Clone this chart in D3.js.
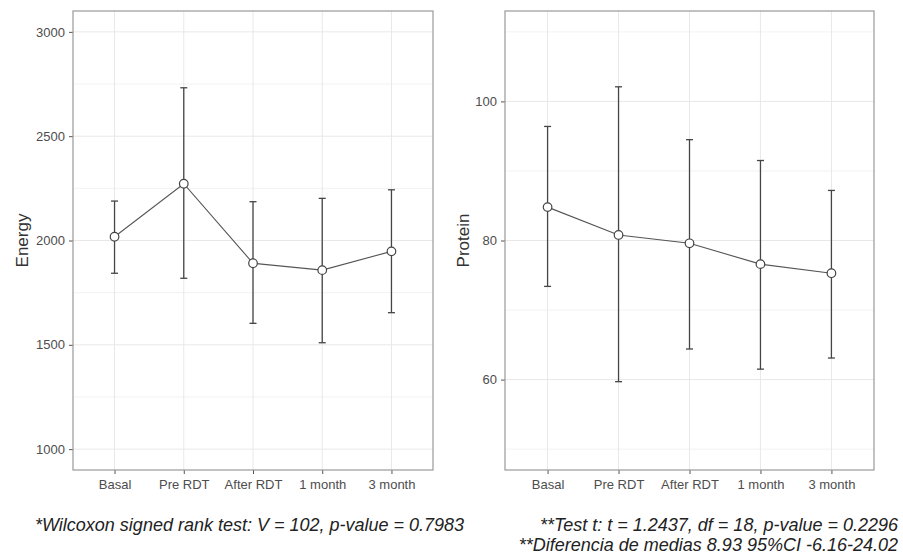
<!DOCTYPE html>
<html>
<head>
<meta charset="utf-8">
<script src="https://cdn.jsdelivr.net/npm/d3@7"></script>
<style>
  body { margin: 0; background: #fff; }
  svg { display: block; font-family: "Liberation Sans", Arial, sans-serif; }
  .tick text { fill: #4d4d4d; font-size: 13px; }
  .tick line { stroke: #555; }
</style>
</head>
<body>
<div id="chart"></div>
<script>
// data
const categories = ["Basal", "Pre RDT", "After RDT", "1 month", "3 month"];

const energyMean = [2018, 2272, 1891, 1858, 1948];
const energyLow  = [1843, 1819, 1603, 1510, 1654];
const energyHigh = [2189, 2732, 2186, 2202, 2243];
const energyTicks = [1000, 1500, 2000, 2500, 3000];
const energyMinor = [1250, 1750, 2250, 2750];

const proteinMean = [84.8, 80.8, 79.6, 76.6, 75.3];
const proteinLow  = [73.4, 59.7, 64.4, 61.5, 63.1];
const proteinHigh = [96.4, 102.1, 94.5, 91.5, 87.2];
const proteinTicks = [60, 80, 100];
const proteinMinor = [50, 70, 90, 110];

const notes = [
  "*Wilcoxon signed rank test: V = 102, p-value = 0.7983",
  "**Test t: t = 1.2437, df = 18, p-value = 0.2296",
  "**Diferencia de medias 8.93 95%CI -6.16-24.02"
];

(function () {
  const width = 903, height = 557;

  const svg = d3.select("#chart")
    .append("svg")
    .attr("width", width)
    .attr("height", height);

  // one panel: mean with error bars, joined by a line
  function panel(box, title, means, lows, highs, domain, ticks, minor) {
    const g = svg.append("g").attr("transform", `translate(${box.x}, ${box.y})`);

    const x = d3.scalePoint()
      .domain(categories)
      .range([0, box.w])
      .padding(0.6);   // same spacing as ggplot's discrete expansion

    const y = d3.scaleLinear()
      .domain(domain)
      .range([box.h, 0]);

    const rows = categories.map((c, i) => ({ cat: c, mean: means[i], low: lows[i], high: highs[i] }));

    // grid
    g.append("g").selectAll("line")
      .data(minor)
      .join("line")
      .attr("x1", 0).attr("x2", box.w)
      .attr("y1", d => y(d)).attr("y2", d => y(d))
      .attr("stroke", "#f2f2f2");

    g.append("g").selectAll("line")
      .data(ticks)
      .join("line")
      .attr("x1", 0).attr("x2", box.w)
      .attr("y1", d => y(d)).attr("y2", d => y(d))
      .attr("stroke", "#e8e8e8");

    g.append("g").selectAll("line")
      .data(categories)
      .join("line")
      .attr("x1", d => x(d)).attr("x2", d => x(d))
      .attr("y1", 0).attr("y2", box.h)
      .attr("stroke", "#e8e8e8");

    // axes
    g.append("g")
      .call(d3.axisLeft(y).tickValues(ticks).tickFormat(d3.format("d")).tickSize(4).tickPadding(4))
      .call(a => a.select(".domain").remove());

    g.append("g")
      .attr("transform", `translate(0, ${box.h})`)
      .call(d3.axisBottom(x).tickSize(4).tickPadding(6))
      .call(a => a.select(".domain").remove());

    // error bars
    const bars = g.append("g")
      .attr("stroke", "#454545")
      .attr("stroke-width", 1.3);

    bars.selectAll(".stem")
      .data(rows)
      .join("line")
      .attr("class", "stem")
      .attr("x1", d => x(d.cat)).attr("x2", d => x(d.cat))
      .attr("y1", d => y(d.low)).attr("y2", d => y(d.high));

    bars.selectAll(".capTop")
      .data(rows)
      .join("line")
      .attr("class", "capTop")
      .attr("x1", d => x(d.cat) - 3.5).attr("x2", d => x(d.cat) + 3.5)
      .attr("y1", d => y(d.high)).attr("y2", d => y(d.high));

    bars.selectAll(".capLow")
      .data(rows)
      .join("line")
      .attr("class", "capLow")
      .attr("x1", d => x(d.cat) - 3.5).attr("x2", d => x(d.cat) + 3.5)
      .attr("y1", d => y(d.low)).attr("y2", d => y(d.low));

    // mean line
    g.append("path")
      .datum(rows)
      .attr("fill", "none")
      .attr("stroke", "#555")
      .attr("stroke-width", 1.1)
      .attr("d", d3.line().x(d => x(d.cat)).y(d => y(d.mean)));

    g.append("g").selectAll("circle")
      .data(rows)
      .join("circle")
      .attr("cx", d => x(d.cat))
      .attr("cy", d => y(d.mean))
      .attr("r", 4.3)
      .attr("fill", "#fff")
      .attr("stroke", "#444")
      .attr("stroke-width", 1.2);

    // border
    g.append("rect")
      .attr("width", box.w).attr("height", box.h)
      .attr("fill", "none")
      .attr("stroke", "#999")
      .attr("stroke-width", 1.2);

    // y title
    g.append("text")
      .attr("transform", `translate(${box.titleX}, ${box.h / 2}) rotate(-90)`)
      .attr("text-anchor", "middle")
      .style("font-size", "17px")
      .attr("fill", "#333")
      .text(title);
  }

  panel({ x: 73, y: 11, w: 360, h: 459, titleX: -45 }, "Energy",
    energyMean, energyLow, energyHigh, [900, 3100], energyTicks, energyMinor);

  panel({ x: 505, y: 11, w: 369, h: 459, titleX: -36 }, "Protein",
    proteinMean, proteinLow, proteinHigh, [47, 113], proteinTicks, proteinMinor);

  // test notes under the panels
  const note = svg.append("g")
    .style("font-size", "18px")
    .style("font-style", "italic")
    .attr("fill", "#222");

  note.append("text").attr("x", 35).attr("y", 531).text(notes[0]);
  note.append("text").attr("x", 898).attr("y", 531).attr("text-anchor", "end").text(notes[1]);
  note.append("text").attr("x", 898).attr("y", 551).attr("text-anchor", "end").text(notes[2]);
})();
</script>
</body>
</html>
